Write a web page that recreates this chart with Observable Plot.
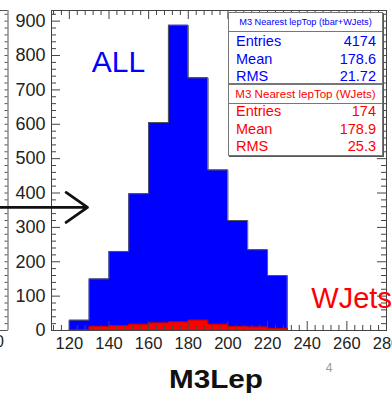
<!DOCTYPE html>
<html><head><meta charset="utf-8">
<script src="https://cdn.jsdelivr.net/npm/d3@7"></script>
<script src="https://cdn.jsdelivr.net/npm/@observablehq/plot@0.6"></script>
<style>
html,body{margin:0;padding:0;background:#fff;}
#wrap{position:relative;width:392px;height:402px;overflow:hidden;font-family:"Liberation Sans",Arial,Helvetica,sans-serif;}
#wrap svg{position:absolute;left:0;top:0;}
.stat{position:absolute;left:228px;width:153px;height:70px;border:1px solid #777;box-shadow:1px 1px 0 #555;background:#fff;}
.stat .ttl{position:absolute;left:0;right:0;top:0;height:18px;border-bottom:1px solid #777;text-align:center;line-height:18px;white-space:nowrap;}
.stat .row{position:absolute;left:7px;right:6px;height:16px;line-height:16px;font-size:14.5px;}
.stat .row span.v{position:absolute;right:0;}
</style></head><body><div id="wrap"></div>
<script>
// ---- data ----
const binStarts = [120,130,140,150,160,170,180,190,200,210,220];
const binWidth = 10;
const allCounts = [30,150,230,398,605,888,735,467,320,235,160];   // tbar+WJets
const wjetsCounts = [2,12,14,18,22,25,30,18,12,10,6];            // WJets
const xTicks = [120,140,160,180,200,220,240,260,280];
const yTicks = [0,100,200,300,400,500,600,700,800,900];
const allStatNames = ["Entries","Mean","RMS"];
const allStatValues = ["4174","178.6","21.72"];
const wjStatNames = ["Entries","Mean","RMS"];
const wjStatValues = ["174","178.9","25.3"];
const allTitle = "M3 Nearest lepTop (tbar+WJets)";
const wjTitle = "M3 Nearest lepTop (WJets)";
const xTitle = "M3Lep";
const labelAll = "ALL";
const labelWJ = "WJets";
const pageNum = "4";

// ---- layout ----
const W = 392, H = 402;
const mL = 51, mR = 6, mT = 10, mB = 72;
const fW = W - mL - mR, fH = H - mT - mB;
const xDomain = [111, 280], yDomain = [0, 931];
const BLUE = "#0000ff", RED = "#ff0000";

function steps(counts){
  const pts = binStarts.map((x,i)=>({x, y: counts[i]}));
  pts.push({x: binStarts[binStarts.length-1] + binWidth, y: counts[counts.length-1]});
  return pts;
}
function outline(counts){
  const s = steps(counts);
  return [{x: binStarts[0], y: 0}, ...s, {x: s[s.length-1].x, y: 0}];
}

const yMinor = d3.range(0, 931, 20).filter(v => v % 100 !== 0);
const xMinor = d3.range(112, 281, 4).filter(v => v % 20 !== 0);

// decorations of neighbouring panel (x in data units left of frame)
const xk = v => xDomain[0] + (v - mL) * (xDomain[1]-xDomain[0]) / fW;
const neighbourX = xk(7.5);
const arrow = [{x1: xk(0), x2: xk(87), y: 358}];

const axisColor = "#444";

const plot = Plot.plot({
  width: W, height: H,
  marginLeft: mL, marginRight: mR, marginTop: mT, marginBottom: mB,
  style: {fontFamily: '"Liberation Sans",Arial,sans-serif', background: "transparent", overflow: "visible"},
  x: {domain: xDomain},
  y: {domain: yDomain},
  marks: [
    Plot.areaY(steps(allCounts), {x: "x", y: "y", curve: "step-after", fill: BLUE}),
    Plot.lineY(outline(allCounts), {x: "x", y: "y", curve: "step-after", stroke: "#555", strokeWidth: 1}),
    Plot.areaY(steps(wjetsCounts), {x: "x", y: "y", curve: "step-after", fill: RED}),
    Plot.lineY(outline(wjetsCounts), {x: "x", y: "y", curve: "step-after", stroke: "#b00", strokeWidth: 0.8}),
    Plot.frame({stroke: axisColor, strokeWidth: 1}),
    Plot.tickY(yTicks, {y: d => d, insetRight: fW - 9, stroke: axisColor}),
    Plot.tickY(yMinor, {y: d => d, insetRight: fW - 5, stroke: axisColor}),
    Plot.tickY(yTicks, {y: d => d, insetLeft: fW - 9, stroke: axisColor}),
    Plot.tickY(yMinor, {y: d => d, insetLeft: fW - 5, stroke: axisColor}),
    Plot.tickX(xTicks, {x: d => d, insetTop: fH - 9, stroke: axisColor}),
    Plot.tickX(xMinor, {x: d => d, insetTop: fH - 5, stroke: axisColor}),
    Plot.tickX(xTicks, {x: d => d, insetBottom: fH - 9, stroke: axisColor}),
    Plot.tickX(xMinor, {x: d => d, insetBottom: fH - 5, stroke: axisColor}),
    Plot.axisY({ticks: yTicks, tickSize: 0, tickPadding: 6, fontSize: 18, fill: "#222", label: null}),
    Plot.axisX({ticks: xTicks, tickSize: 0, tickPadding: 7, fontSize: 16.5, fill: "#222", label: null}),
    // neighbour panel fragment
    Plot.ruleX([neighbourX], {y1: yDomain[0], y2: yDomain[1], stroke: "#555"}),
    Plot.ruleY([yDomain[0], yDomain[1]], {x1: xk(0), x2: neighbourX, stroke: "#555"}),
    Plot.ruleY(yMinor.concat(yTicks), {x1: xk(4.5), x2: neighbourX, stroke: "#555"}),
    Plot.text(["0"], {x: xk(-1), y: 0, dy: 11, fontSize: 16, fill: "#222"}),
    // arrow
    Plot.arrow(arrow, {x1: "x1", x2: "x2", y1: "y", y2: "y", stroke: "#111", strokeWidth: 2.8, headLength: 14, headAngle: 70}),
    // annotations
    Plot.text([labelAll], {x: 144.8, y: 780, fill: BLUE, fontSize: 30}),
    Plot.text([labelWJ], {x: 262.4, y: 92, fill: RED, fontSize: 29}),
    Plot.text([xTitle], {frameAnchor: "bottom", dx: -3, dy: 57, fontSize: 26, fontWeight: "bold", fill: "#111"}),
    Plot.text([pageNum], {frameAnchor: "bottom", dx: 110, dy: 41, fontSize: 12, fill: "#999"})
  ]
});

d3.select(plot).selectAll("text").filter(function(){ return this.textContent === xTitle; })
  .attr("textLength", 94).attr("lengthAdjust", "spacingAndGlyphs");

const wrap = document.getElementById("wrap");
wrap.appendChild(plot);

function statBox(top, title, titleSize, color, names, values, rowCenters){
  const box = document.createElement("div");
  box.className = "stat";
  box.style.top = top + "px";
  const t = document.createElement("div");
  t.className = "ttl";
  t.style.color = color;
  t.style.fontSize = titleSize + "px";
  t.textContent = title;
  box.appendChild(t);
  names.forEach((n, i) => {
    const r = document.createElement("div");
    r.className = "row";
    r.style.color = color;
    r.style.top = (rowCenters[i] - 8) + "px";
    const a = document.createElement("span"); a.textContent = n;
    const b = document.createElement("span"); b.className = "v"; b.textContent = values[i];
    r.appendChild(a); r.appendChild(b);
    box.appendChild(r);
  });
  wrap.appendChild(box);
}
statBox(12, allTitle, 9.2, BLUE, allStatNames, allStatValues, [27.5, 45.5, 62.5]);
statBox(84, wjTitle, 11.6, RED, wjStatNames, wjStatValues, [25.5, 44, 61]);
</script>
</body></html>
